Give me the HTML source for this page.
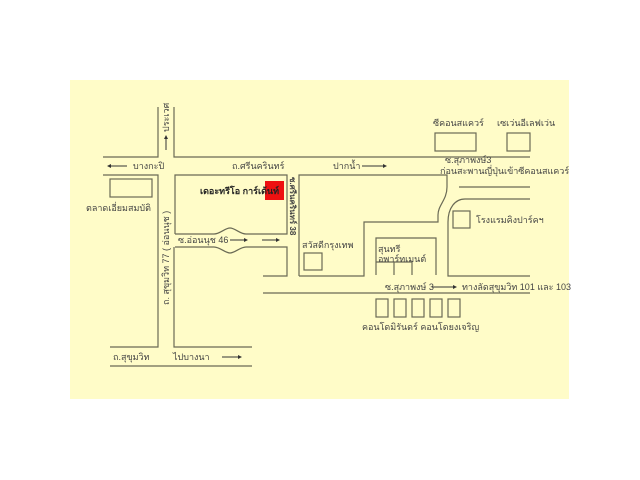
<!DOCTYPE html>
<html><head><meta charset="utf-8"><style>
body{margin:0;background:#fff;width:640px;height:480px;overflow:hidden}
svg{display:block}
text{font-family:"Liberation Sans","Noto Sans CJK SC",sans-serif;font-size:9px;fill:#444}
</style></head><body>
<svg width="640" height="480" viewBox="0 0 640 480">
<rect x="70" y="80" width="499" height="319" fill="#fffcc8"/>
<g stroke="#6a6a55" stroke-width="1.2" fill="none">
<path d="M158 107V157H103"/>
<path d="M174 107V157H530"/>
<path d="M103 175H158V347H110"/>
<path d="M110 366H252"/>
<path d="M174 247V347H252"/>
<path d="M175 234V175H287V234H246 C240 234 235 228 230 228 C225 228 220 234 214 234H175"/>
<path d="M175 247H214 C220 247 225 253 230 253 C235 253 240 247 246 247H287V276H263"/>
<path d="M299 276V175H447V187 C447 200 438 205 438 215V222H364V276H299"/>
<rect x="110" y="179" width="42" height="18"/>
<rect x="304" y="253" width="18" height="17"/>
<path d="M376 275V238H436V275"/>
<path d="M376 262H412V275M394 262V275"/>
<path d="M459 187H530M530 199H465 C455 199 448 208 448 222V276H530"/>
<path d="M263 293H530"/>
<rect x="435" y="133" width="41" height="18"/>
<rect x="507" y="133" width="23" height="18"/>
<rect x="453" y="211" width="17" height="17"/>
<rect x="376" y="299" width="12" height="18"/>
<rect x="394" y="299" width="12" height="18"/>
<rect x="412" y="299" width="12" height="18"/>
<rect x="430" y="299" width="12" height="18"/>
<rect x="448" y="299" width="12" height="18"/>
</g>
<rect x="265" y="181" width="19" height="19" fill="#ee1111"/>
<g stroke="#333" stroke-width="1">
<path d="M166 150V138"/><path d="M110 166H127"/><path d="M362 166H384"/>
<path d="M230 240H245"/><path d="M262 240H277"/><path d="M432 287H454"/><path d="M222 357H239"/>
</g>
<g fill="#333">
<path d="M166 135l-2 4h4z"/><path d="M107 166l4-2v4z"/><path d="M387 166l-4-2v4z"/>
<path d="M248 240l-4-2v4z"/><path d="M280 240l-4-2v4z"/><path d="M457 287l-4-2v4z"/><path d="M242 357l-4-2v4z"/>
</g>
<text x="133" y="169">บางกะปิ</text>
<text x="232" y="169">ถ.ศรีนครินทร์</text>
<text x="333" y="169">ปากน้ำ</text>
<text x="445" y="163">ซ.สุภาพงษ์3</text>
<text x="440" y="174">ก่อนสะพานญี่ปุ่นเข้าซีคอนสแควร์</text>
<text x="433" y="126">ซีคอนสแควร์</text>
<text x="497" y="126">เซเว่นอีเลฟเว่น</text>
<text x="86" y="211">ตลาดเอี่ยมสมบัติ</text>
<text x="200" y="194" style="font-weight:bold;fill:#222">เดอะทรีโอ การ์เด้นท์</text>
<text x="178" y="243">ซ.อ่อนนุช 46</text>
<text x="302" y="248">สวัสดีกรุงเทพ</text>
<text x="378" y="252">สุนทรี</text>
<text x="378" y="262">อพาร์ทเมนต์</text>
<text x="476" y="223">โรงแรมคิงปาร์คฯ</text>
<text x="385" y="290">ซ.สุภาพงษ์ 3</text>
<text x="462" y="290">ทางลัดสุขุมวิท 101 และ 103</text>
<text x="362" y="330">คอนโดมิรันดร์ คอนโดยงเจริญ</text>
<text x="113" y="360">ถ.สุขุมวิท</text>
<text x="173" y="360">ไปบางนา</text>
<text transform="translate(169,132) rotate(-90)">ประเวศ</text>
<text transform="translate(169,305) rotate(-90)">ถ. สุขุมวิท 77 ( อ่อนนุช )</text>
<text transform="translate(290,177) rotate(90)" style="font-weight:bold;font-size:8px">ซ.ศรีนครินทร์ 38</text>
</svg>
</body></html>
